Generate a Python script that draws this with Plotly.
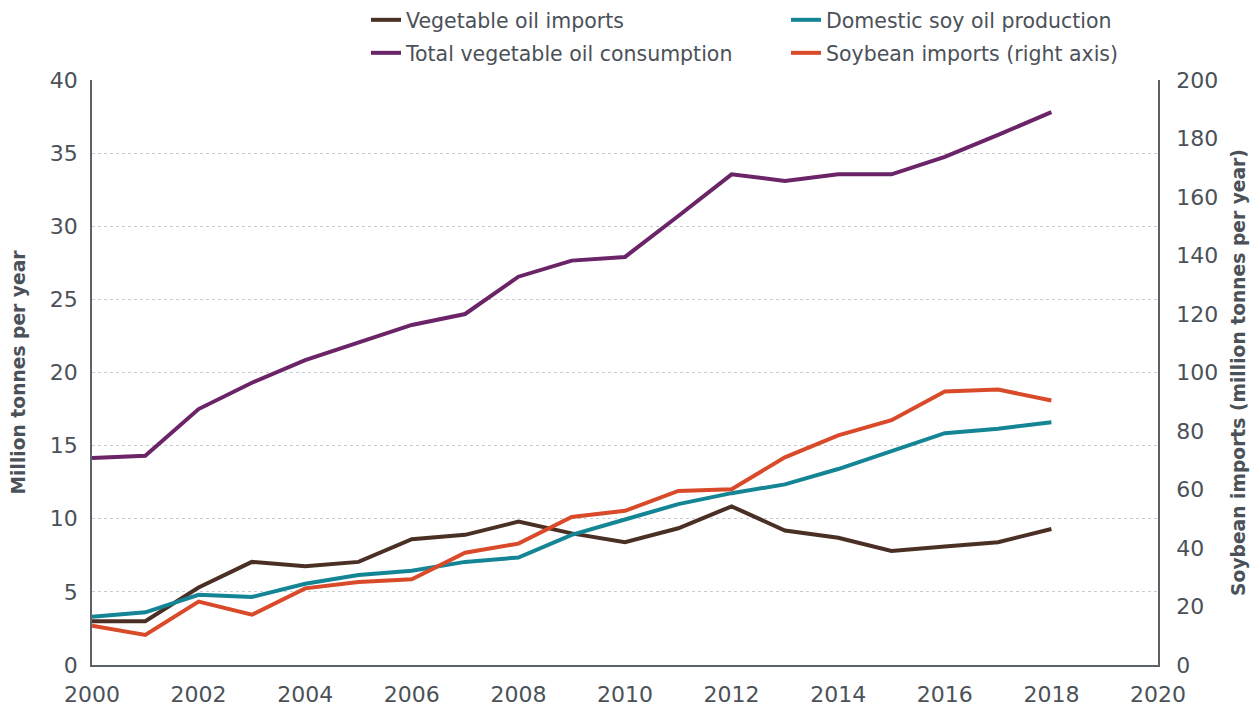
import plotly.graph_objects as go

years = list(range(2000, 2019))
veg_oil_imports = [3.0, 3.0, 5.3, 7.05, 6.75, 7.05, 8.6, 8.9, 9.8, 9.0, 8.4, 9.35, 10.85, 9.2, 8.7, 7.8, 8.1, 8.4, 9.3]
domestic_soy_oil = [3.3, 3.6, 4.8, 4.65, 5.55, 6.15, 6.45, 7.05, 7.35, 8.9, 9.95, 11.0, 11.75, 12.35, 13.4, 14.6, 15.85, 16.15, 16.6]
total_consumption = [14.15, 14.3, 17.5, 19.3, 20.85, 22.05, 23.25, 24.0, 26.55, 27.65, 27.9, 30.7, 33.55, 33.1, 33.55, 33.55, 34.75, 36.25, 37.8]
soybean_imports = [13.4, 10.3, 21.7, 17.2, 26.2, 28.4, 29.3, 38.4, 41.5, 50.6, 52.7, 59.5, 60.1, 71.0, 78.5, 83.7, 93.5, 94.2, 90.4]

x_ticks = list(range(2000, 2021, 2))

FONT = "DejaVu Sans"
TXT = "#4b5158"

# page body has an 8px default margin; figure sized to fill the 1260x707 window
W, H = 1252, 699

fig = go.Figure()
fig.add_trace(go.Scatter(x=years, y=veg_oil_imports, mode="lines", name="Vegetable oil imports",
                         line=dict(color="#4a3024", width=4), legend="legend"))
fig.add_trace(go.Scatter(x=years, y=domestic_soy_oil, mode="lines", name="Domestic soy oil production",
                         line=dict(color="#148595", width=4), legend="legend"))
fig.add_trace(go.Scatter(x=years, y=total_consumption, mode="lines", name="Total vegetable oil consumption",
                         line=dict(color="#6a2467", width=4), legend="legend2"))
fig.add_trace(go.Scatter(x=years, y=soybean_imports, mode="lines", name="Soybean imports (right axis)",
                         line=dict(color="#d94a2a", width=4), yaxis="y2", legend="legend2"))

leg_common = dict(orientation="h", xref="container", yref="container", x=358 / W,
                  xanchor="left", yanchor="middle", entrywidth=375,
                  font=dict(family=FONT, size=20.5, color=TXT), itemwidth=30, bgcolor="rgba(0,0,0,0)")

fig.update_layout(
    width=W, height=H,
    margin=dict(l=84, r=102, t=72, b=42, autoexpand=False),
    paper_bgcolor="white", plot_bgcolor="white",
    font=dict(family=FONT, size=22, color=TXT),
    showlegend=True,
    legend=dict(**leg_common, y=1 - 12 / H),
    legend2=dict(**leg_common, y=1 - 45 / H),
    xaxis=dict(range=[2000, 2020], tickvals=x_ticks, showgrid=False, showline=True,
               linecolor="#5b6168", linewidth=1.5, zeroline=False, ticks="", ticklabelstandoff=9,
               automargin=False),
    yaxis=dict(range=[0, 40], dtick=5, showgrid=True, gridcolor="#c9ccd0", griddash="dot", gridwidth=1,
               showline=True, linecolor="#5b6168", linewidth=1.5, zeroline=False, ticklabelstandoff=8,
               automargin=False,
               title=dict(text="Million tonnes per year", font=dict(size=18.7, color=TXT, weight="bold"), standoff=31)),
    yaxis2=dict(range=[0, 200], dtick=20, overlaying="y", side="right", showgrid=False,
                showline=True, linecolor="#5b6168", linewidth=1.5, zeroline=False, ticklabelstandoff=12,
                automargin=False,
                title=dict(text="Soybean imports (million tonnes per year)", font=dict(size=18.7, color=TXT, weight="bold"), standoff=15)),
)

fig.write_html("out.html")
